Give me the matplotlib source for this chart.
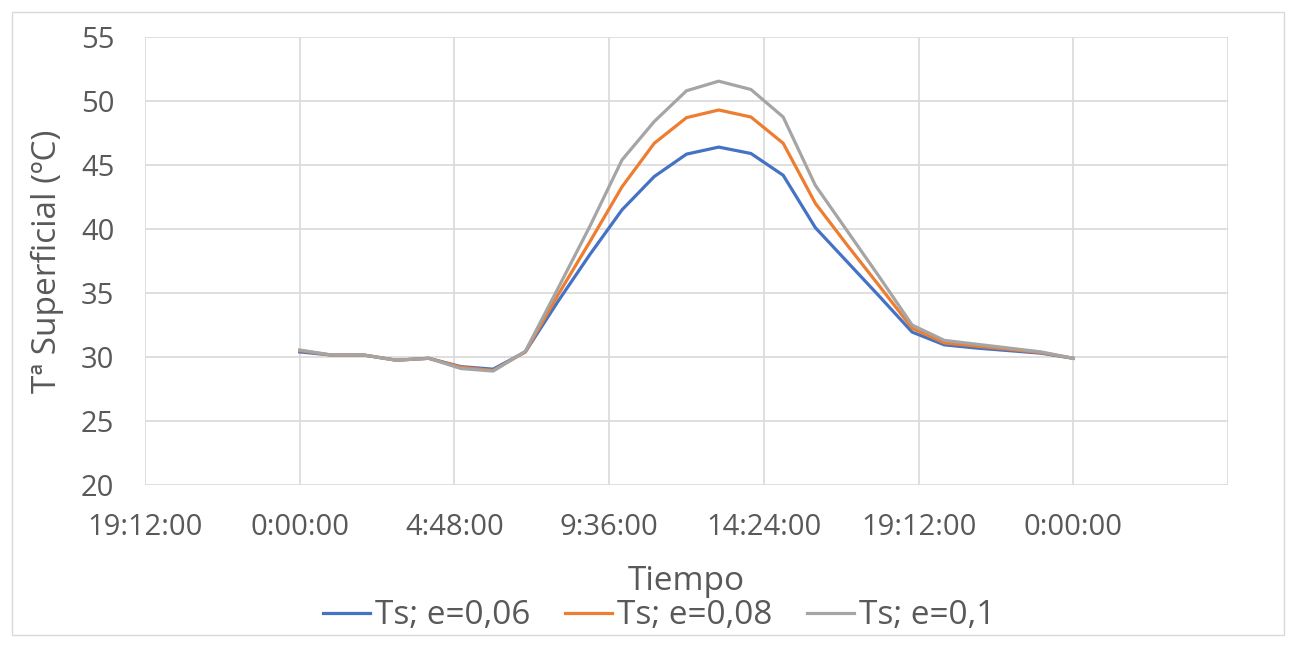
import matplotlib.pyplot as plt
from matplotlib.patches import Rectangle

plt.rcParams['font.family'] = ['Open Sans', 'DejaVu Sans']

# hours of the day
horas = list(range(25))

ts_006 = [30.4, 30.15, 30.15, 29.75, 29.9, 29.25, 29.05, 30.4, 34.3, 38.0,
          41.5, 44.1, 45.85, 46.4, 45.9, 44.2, 40.1, 37.4, 34.7, 31.95,
          30.95, 30.7, 30.5, 30.3, 29.9]
ts_008 = [30.5, 30.15, 30.15, 29.75, 29.9, 29.2, 28.95, 30.4, 34.8, 39.0,
          43.3, 46.7, 48.7, 49.3, 48.75, 46.7, 42.0, 38.7, 35.5, 32.25,
          31.1, 30.85, 30.6, 30.35, 29.9]
ts_01 = [30.55, 30.15, 30.15, 29.75, 29.9, 29.1, 28.9, 30.45, 35.3, 40.2,
         45.4, 48.4, 50.8, 51.55, 50.9, 48.75, 43.4, 39.8, 36.2, 32.5,
         31.3, 31.0, 30.7, 30.4, 29.9]

xticks = [-4.8, 0, 4.8, 9.6, 14.4, 19.2, 24, 28.8]
xlabels = ['19:12:00', '0:00:00', '4:48:00', '9:36:00', '14:24:00',
           '19:12:00', '0:00:00', '']

txt = '#595959'

fig = plt.figure(figsize=(12.96, 6.46), dpi=100)
ax = fig.add_axes([0.1119, 0.2492, 0.8356, 0.6935])

ax.plot(horas, ts_006, color='#4472C4', lw=2.3, label='Ts; e=0,06')
ax.plot(horas, ts_008, color='#ED7D31', lw=2.3, label='Ts; e=0,08')
ax.plot(horas, ts_01, color='#A5A5A5', lw=2.3, label='Ts; e=0,1')

ax.set_xlim(-4.8, 28.8)
ax.set_ylim(20, 55)
ax.set_yticks(range(20, 56, 5))
ax.set_xticks(xticks)
ax.set_xticklabels(xlabels)
ax.grid(True, color='#d9d9d9', lw=1.2)
ax.set_axisbelow(True)
for s in ax.spines.values():
    s.set_visible(False)
ax.tick_params(length=0, labelsize=21, colors=txt)
ax.tick_params(axis='x', pad=20)
ax.tick_params(axis='y', pad=22)

ax.set_xlabel('Tiempo', fontsize=24, color=txt, labelpad=17)
ax.set_ylabel('Tª Superficial (ºC)', fontsize=24, color=txt, labelpad=12)

fig.legend(loc='center', bbox_to_anchor=(0.5085, 1 - 616 / 646), ncol=3,
           frameon=False, fontsize=24, labelcolor=txt, handlelength=1.4,
           handletextpad=0.15, columnspacing=1.05, borderpad=0)

fig.patches.append(Rectangle((0.009, 0.017), 0.982, 0.965, transform=fig.transFigure,
                             fill=False, edgecolor='#d9d9d9', lw=1))

fig.savefig('out.png', dpi=100)
